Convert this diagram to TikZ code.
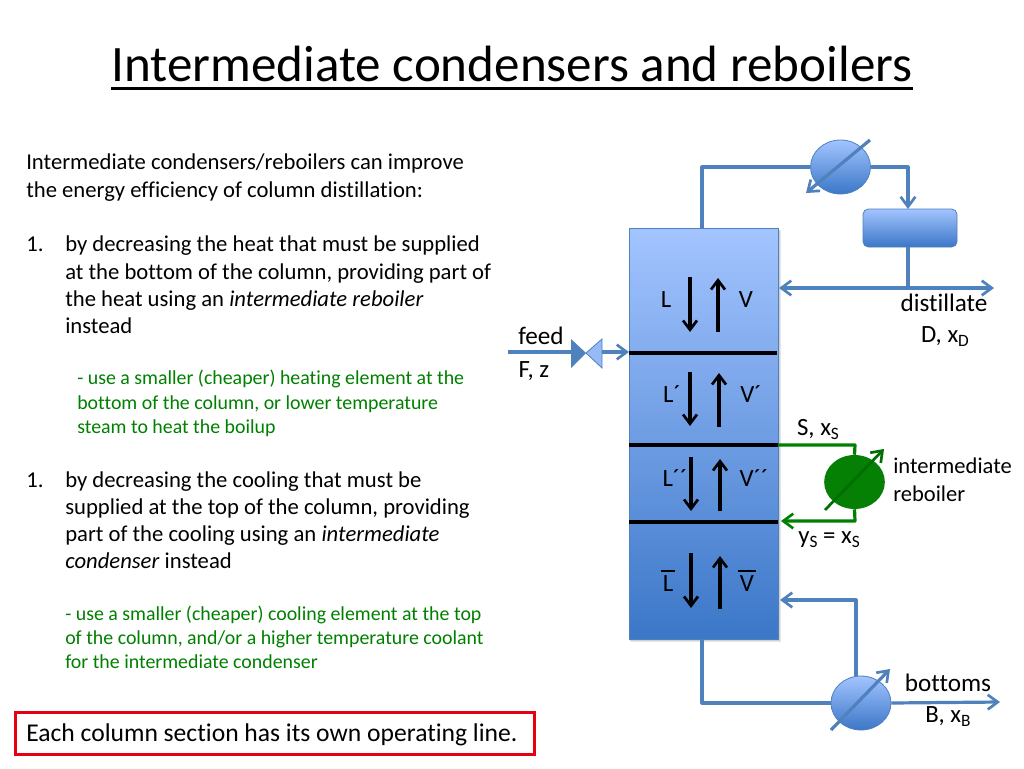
\documentclass[tikz,border=0pt]{standalone}
\usepackage{fontspec}
\setmainfont{Carlito}[Ligatures=NoCommon]
\usetikzlibrary{arrows.meta,shapes.geometric}
\definecolor{pipe}{HTML}{4F81BD}
\definecolor{gtxt}{HTML}{008000}
\definecolor{hi}{HTML}{A3C4FF}
\definecolor{lo}{HTML}{3B77C8}
\newcommand{\fsz}[1]{\fontsize{#1}{#1}\selectfont}
\newcommand{\barred}[1]{\leavevmode\setbox0=\hbox{#1}\rlap{\hspace{-1.2pt}\raisebox{1.2\ht0}{\rule{\dimexpr\wd0+2.4pt\relax}{1.1pt}}}\box0 }
\newcommand{\subs}[1]{\raisebox{-3.2pt}{\fsz{13}#1}}
\tikzset{
  x=0.75pt,y=-0.75pt,
  bt/.style={anchor=base west,inner sep=0pt,font=\fsz{17}},
  gt/.style={anchor=base west,inner sep=0pt,text=gtxt,font=\fsz{14.9}},
  lab/.style={anchor=base,inner sep=0pt,font=\fsz{18.6}},
  big/.style={anchor=base,inner sep=0pt,font=\fsz{18.9}},
  tip/.style={-{Straight Barb[length=7.5pt,width=11pt,line width=2pt]}},
  pipeline/.style={draw=pipe,line width=2.4pt,line join=round},
  greenline/.style={draw=gtxt,line width=2.4pt,line join=round},
  flow/.style={draw=black,line width=2.3pt,-{Straight Barb[length=7pt,width=10.5pt,line width=2pt]}},
  tray/.style={draw=black,line width=2.3pt},
  hx/.style={ellipse,draw=pipe,line width=0.6pt,top color=hi,bottom color=lo,minimum width=45pt,minimum height=40.5pt,inner sep=0pt},
}
\begin{document}
\begin{tikzpicture}
\useasboundingbox (0,0) rectangle (1024,768);
\fill[white] (0,0) rectangle (1024,768);
% title
\node[anchor=base,inner sep=0pt,font=\fsz{38.3}] (title) at (512,81) {Intermediate condensers and reboilers};
\draw[line width=2.4pt] ([yshift=-5.5pt]title.base west) -- ([yshift=-5.5pt]title.base east);
% left text
\node[bt] (a1) at (26,169) {Intermediate condensers/reboilers can improve};
\node[bt] (a2) at (26,197) {the energy efficiency of column distillation:};
\node[bt] (b0) at (26,251) {1.};
\node[bt] (b1) at (65,251) {by decreasing the heat that must be supplied};
\node[bt] (b2) at (65,279) {at the bottom of the column, providing part of};
\node[bt] (b3) at (65,306) {the heat using an \textit{intermediate reboiler}};
\node[bt] (b4) at (65,333) {instead};
\node[gt] (c1) at (77,384) {- use a smaller (cheaper) heating element at the};
\node[gt] (c2) at (77,409) {bottom of the column, or lower temperature};
\node[gt] (c3) at (77,433) {steam to heat the boilup};
\node[bt] (d0) at (26,487) {1.};
\node[bt] (d1) at (65,487) {by decreasing the cooling that must be};
\node[bt] (d2) at (65,514) {supplied at the top of the column, providing};
\node[bt] (d3) at (65,541) {part of the cooling using an \textit{intermediate}};
\node[bt] (d4) at (65,568) {\textit{condenser} instead};
\node[gt] (e1) at (65,620) {- use a smaller (cheaper) cooling element at the top};
\node[gt] (e2) at (65,644) {of the column, and/or a higher temperature coolant};
\node[gt] (e3) at (65,668) {for the intermediate condenser};
\node[draw={rgb,255:red,230;green,0;blue,18},line width=2.3pt,minimum width=389pt,minimum height=31.5pt,inner sep=0pt,anchor=north west] (box) at (14,711) {};
\node[anchor=base west,inner sep=0pt,font=\fsz{19.2}] (boxt) at (26,741) {Each column section has its own operating line.};
% column
\fill[black!10] (631,231) rectangle (781,642);
\fill[black!18] (630,230) rectangle (780,641);
\node[draw=pipe,line width=0.6pt,top color=hi,bottom color=lo,minimum width=111.75pt,minimum height=308.25pt,inner sep=0pt,anchor=north west] (col) at (629,228) {};
\coordinate (t1w) at (629,353); \coordinate (t1e) at (777,353);
\coordinate (t2w) at (629,445); \coordinate (t2e) at (778,445);
\coordinate (t3w) at (629,522); \coordinate (t3e) at (778,522);
\draw[tray] (t1w) -- (t1e);
\draw[tray] (t2w) -- (t2e);
\draw[tray] (t3w) -- (t3e);
% flow arrows
\coordinate (f1a) at (690,277); \coordinate (f1b) at (690,332);
\coordinate (f2a) at (718,332); \coordinate (f2b) at (718,278);
\coordinate (f3a) at (690,372); \coordinate (f3b) at (690,426);
\coordinate (f4a) at (719,427); \coordinate (f4b) at (719,373);
\coordinate (f5a) at (691,457); \coordinate (f5b) at (691,511);
\coordinate (f6a) at (720,511); \coordinate (f6b) at (720,459);
\coordinate (f7a) at (691,553); \coordinate (f7b) at (691,608);
\coordinate (f8a) at (720,609); \coordinate (f8b) at (720,556);
\foreach \p/\q in {f1a/f1b,f2a/f2b,f3a/f3b,f4a/f4b,f5a/f5b,f6a/f6b,f7a/f7b,f8a/f8b}{\draw[flow] (\p) -- (\q);}
\node[lab] (L1) at (666,307) {L};
\node[lab] (V1) at (746,307) {V};
\node[lab] (L2) at (672,402) {L´};
\node[lab] (V2) at (751,402) {V´};
\node[lab] (L3) at (675,486) {L´´};
\node[lab] (V3) at (754,486) {V´´};
\node[lab] (L4) at (668,591) {\barred{L}};
\node[lab] (V4) at (747,591) {\barred{V}};
% condenser + drum
\node[hx] (cond) at (840.5,167) {};
\node[draw=pipe,line width=0.6pt,rounded corners=4pt,top color=hi,bottom color=lo,minimum width=70.5pt,minimum height=28.5pt,inner sep=0pt] (drum) at (910,228) {};
\coordinate (colt) at (702,228);
\coordinate (colb) at (702,639);
\draw[pipeline] (colt) |- (cond.west);
\draw[pipeline,tip] (cond.east) -| (908,209);
\coordinate (cin1) at (870,140); \coordinate (cin2) at (806,193);
\draw[pipeline,tip] (cin1) -- (cin2);
\coordinate (drb) at (908,247); \coordinate (dj) at (908,288);
\draw[pipeline] (drb) -- (dj);
\coordinate (dL) at (779,288); \coordinate (dR) at (994,288);
\draw[pipeline,{Straight Barb[length=7.5pt,width=11pt,line width=2pt]}-{Straight Barb[length=7.5pt,width=11pt,line width=2pt]}] (dL) -- (dR);
\node[big] (dist) at (944,311) {distillate};
\node[lab] (dist2) at (945,342) {D, x\subs{D}};
% feed
\coordinate (fs) at (508,352); \coordinate (fv) at (586,353); \coordinate (fe) at (629,352);
\draw[pipeline] (fs) -- (572,352);
\fill[pipe] (571,339) -- (586,353) -- (571,368) -- cycle;
\draw[pipe,line width=0.6pt,fill=hi!85!pipe] (602,339) -- (586,353) -- (602,368) -- cycle;
\draw[pipeline,tip] (602,352) -- (fe);
\node[big] (feed) at (541,344) {feed};
\node[lab] (fz) at (534,377) {F, z};
% intermediate reboiler
\node[ellipse,fill={rgb,255:red,5;green,128;blue,5},minimum width=45.5pt,minimum height=40.5pt,inner sep=0pt] (irb) at (854.5,482) {};
\coordinate (g1) at (855,445);
\draw[greenline] (t2e) -- (g1) -- (irb.north);
\coordinate (g2) at (855,521); \coordinate (g3) at (781,521);
\draw[greenline,tip] (irb.south) -- (g2) -- (g3);
\coordinate (gi1) at (825,510); \coordinate (gi2) at (884,449);
\draw[greenline,line width=2pt,draw={rgb,255:red,0;green,110;blue,0},tip] (gi1) -- (gi2);
\node[lab] (sx) at (818,435) {S, x\subs{S}};
\node[lab] (yx) at (829,543) {y\subs{S} = x\subs{S}};
\node[anchor=base west,inner sep=0pt,font=\fsz{16.9}] (ir1) at (893,473) {intermediate};
\node[anchor=base west,inner sep=0pt,font=\fsz{16.9}] (ir2) at (893,501) {reboiler};
% bottom reboiler
\node[hx] (reb) at (861,703) {};
\draw[pipeline] (colb) |- (reb.west);
\coordinate (r1) at (856,676); \coordinate (r2) at (856,600); \coordinate (r3) at (780,600);
\draw[pipeline,tip] (r1) -- (r2) -- (r3);
\draw[pipeline,tip] (reb.east) -- (1000,702);
\coordinate (ri1) at (831,730); \coordinate (ri2) at (890,669);
\draw[pipeline,tip] (ri1) -- (ri2);
\node[big] (bot) at (948,691) {bottoms};
\node[lab] (bx) at (948,722) {B, x\subs{B}};
\end{tikzpicture}
\end{document}
